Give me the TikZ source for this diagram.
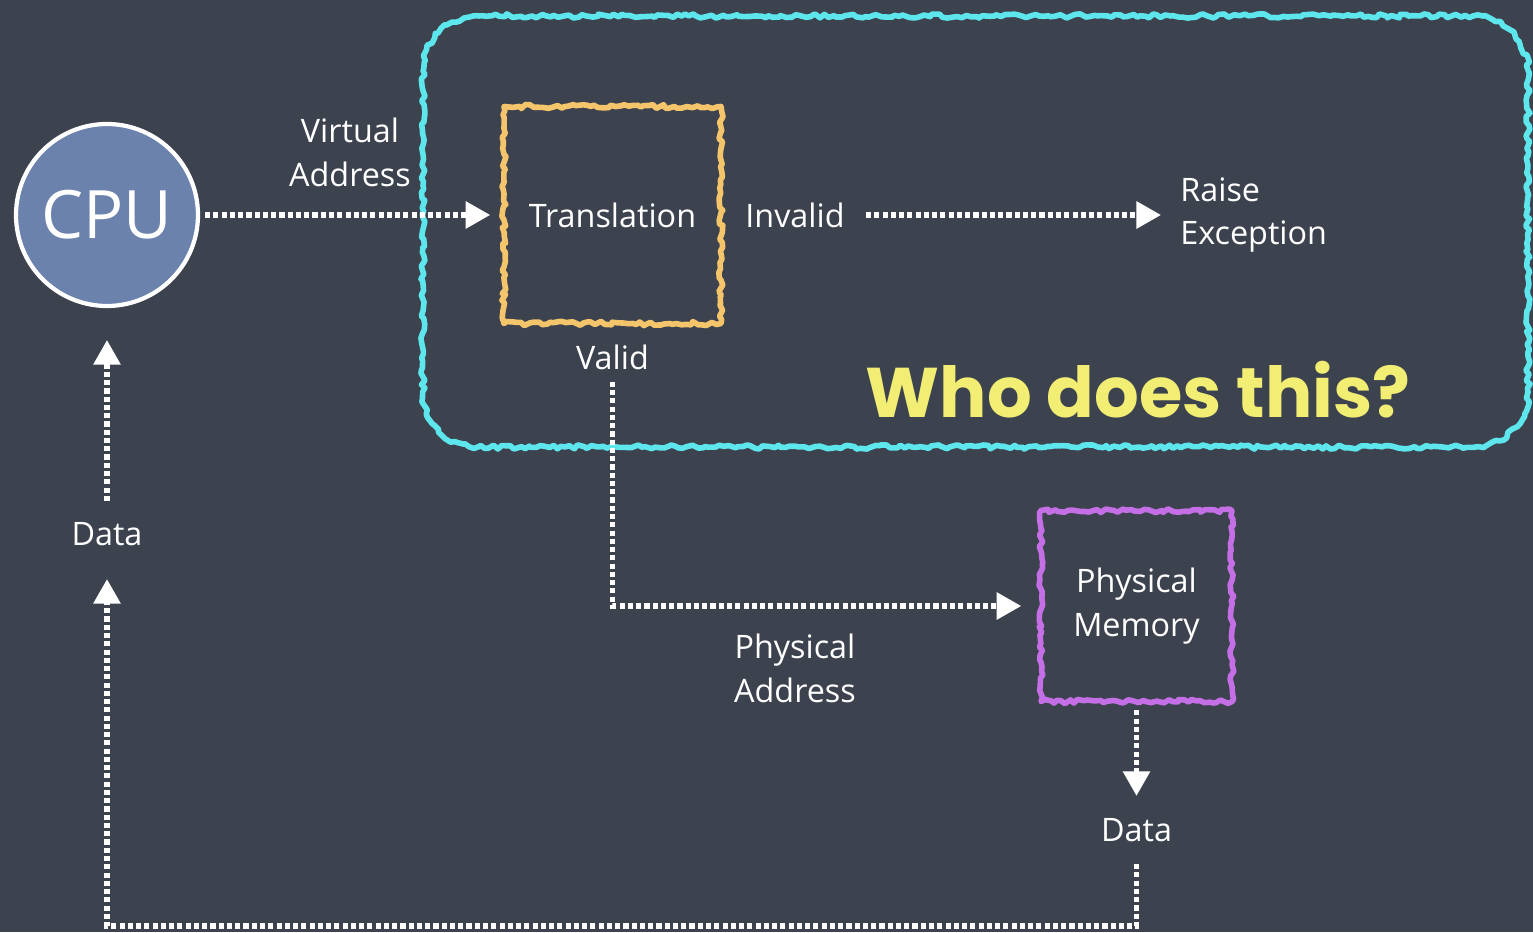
\documentclass[tikz,border=0pt]{standalone}
\usepackage{fontspec}
\setmainfont{Open Sans}
\newfontfamily\handfont{Poppins}
\usetikzlibrary{arrows.meta,decorations.pathmorphing}

\definecolor{board}{HTML}{3D424F}
\definecolor{cpublue}{HTML}{6B82AD}
\definecolor{mmucyan}{HTML}{5DE6EC}
\definecolor{tryellow}{HTML}{F5C56C}
\definecolor{mempurple}{HTML}{C46FE6}
\definecolor{askyellow}{HTML}{F2EE74}

\begin{document}
\begin{tikzpicture}[>={Triangle[length=7pt,width=7.5pt]}, text=white,
  font=\fontsize{9.2}{12.5}\selectfont,
  chalk/.style={draw, line width=1.6pt, line join=round, decorate,
    decoration={random steps, segment length=1.2pt, amplitude=0.6pt}},
  box/.style={chalk, minimum width=#1, minimum height=#1},
  lbl/.style={align=center},
  flow/.style={->, white, line width=1.45pt, dash pattern=on 1.45pt off 0.9pt}]
  % board
  \fill[board] (0,0) rectangle (15.33,9.32);
  \useasboundingbox (0,0) rectangle (15.33,9.32);

  % the part in question (corners drawn as arcs, so the chalk stays even)
  \draw[chalk, mmucyan] (4.78,9.16) -- (14.73,9.16)
    arc[start angle=90, end angle=0, radius=0.55] -- (15.28,5.40)
    arc[start angle=0, end angle=-90, radius=0.55] -- (4.78,4.85)
    arc[start angle=270, end angle=180, radius=0.55] -- (4.23,8.61)
    arc[start angle=180, end angle=90, radius=0.55] -- cycle;
  \node[font=\handfont\bfseries\fontsize{20}{20}\selectfont, text=askyellow] (ask) at (11.38,5.42) {Who does this?};

  \node[circle, draw=white, line width=1.2pt, fill=cpublue, minimum size=1.82cm,
    font=\fontsize{19}{19}\selectfont] (cpu) at (1.07,7.17) {CPU};
  \node[box=2.17cm, draw=tryellow] (tr) at (6.125,7.17) {Translation};
  \node[box=1.91cm, draw=mempurple, lbl] (mem) at (11.365,3.26) {Physical\\Memory};

  \node[lbl] (va) at (3.50,7.80) {Virtual\\Address};
  \node (inv) at (7.95,7.17) {Invalid};
  \node[align=left, anchor=west] (raise) at (11.68,7.17) {Raise\\Exception};
  \node (valid) at (6.125,5.75) {Valid};
  \node[lbl] (pa) at (7.95,2.64) {Physical\\Address};
  \node (data1) at (11.365,1.02) {Data};
  \node (data2) at (1.07,3.98) {Data};
  \coordinate (turn) at (11.365,0.06);

  \draw[flow, shorten <=0.05cm, shorten >=0.11cm] (cpu) -- (tr);
  \draw[flow, shorten <=0.09cm, shorten >=0.07cm] (inv.east) -- (raise.west);
  \draw[flow, shorten >=0.17cm] (valid.south) |- (mem.west);
  \draw[flow, shorten <=0.06cm, shorten >=0.1cm] (mem.south) -- (data1.north);
  \draw[flow, shorten <=0.1cm, shorten >=0.21cm] (data1.south) -- (turn) -| (data2.south);
  \draw[flow, shorten <=0.09cm, shorten >=0.32cm] (data2.north) -- (cpu.south);
\end{tikzpicture}
\end{document}
